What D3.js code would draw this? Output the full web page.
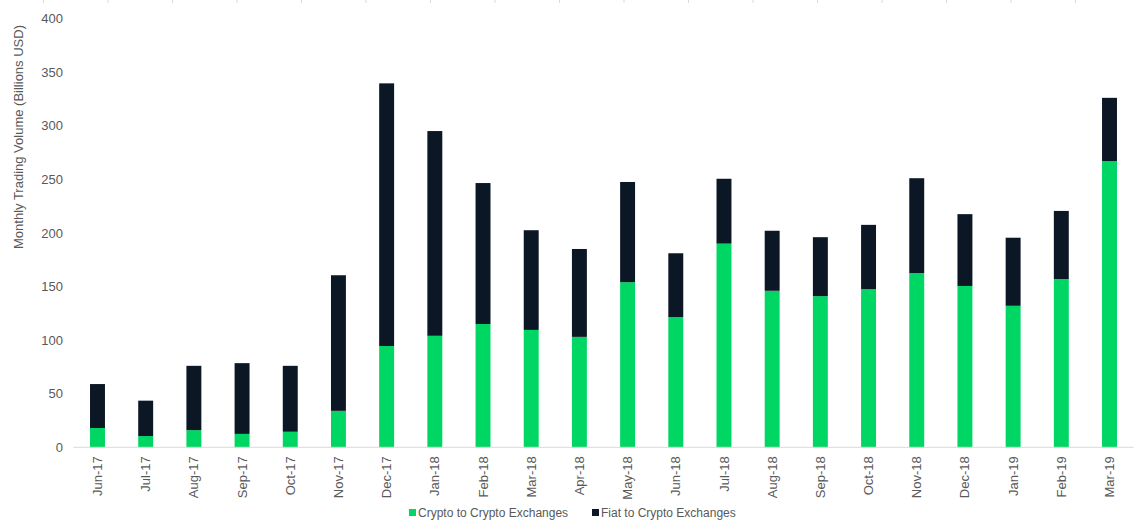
<!DOCTYPE html>
<html>
<head>
<meta charset="utf-8">
<script src="https://cdn.jsdelivr.net/npm/d3@7"></script>
<style>
    body { margin: 0; background: #fff; }
    text { font-family: "Liberation Sans", Arial, sans-serif; fill: #595959; }
</style>
</head>
<body>
<div id="chart"></div>
<script>
// データ
var months = ["Jun-17", "Jul-17", "Aug-17", "Sep-17", "Oct-17", "Nov-17", "Dec-17",
    "Jan-18", "Feb-18", "Mar-18", "Apr-18", "May-18", "Jun-18", "Jul-18", "Aug-18",
    "Sep-18", "Oct-18", "Nov-18", "Dec-18", "Jan-19", "Feb-19", "Mar-19"];
var cryptoToCrypto = [18, 10.5, 16, 12.5, 14.5, 34, 94.5,
    104, 115, 109.5, 103, 154, 121.5, 190, 146,
    141, 147.5, 162.5, 150.5, 132, 157, 267];
var fiatToCrypto = [41, 33, 60, 66, 61.5, 126.5, 245,
    191, 131.5, 93, 82, 93.5, 59.5, 60.5, 56,
    55, 60, 88.5, 67, 63.5, 63.5, 59];
var yTicks = [0, 50, 100, 150, 200, 250, 300, 350, 400];
var seriesNames = ["Crypto to Crypto Exchanges", "Fiat to Crypto Exchanges"];
var seriesColors = ["#00d664", "#0c1726"];

var width = 1139;
var height = 530;

var rows = months.map(function (m, i) {
    return { month: m, c2c: cryptoToCrypto[i], f2c: fiatToCrypto[i] };
});
var stack = d3.stack().keys(["c2c", "f2c"])(rows);

var svg = d3.select("#chart")
    .append("svg")
    .attr("width", width)
    .attr("height", height);

// 上端の小さな目盛り
svg.append("g")
    .selectAll("line")
    .data(d3.range(17))
    .enter()
    .append("line")
    .attr("x1", function (d) { return 43.5 + d * 64.5; })
    .attr("x2", function (d) { return 43.5 + d * 64.5; })
    .attr("y1", 0)
    .attr("y2", 3)
    .attr("stroke", "#d9d9d9");

// スケール
var xScale = d3.scaleBand()
    .domain(months)
    .range([73.4, 1133.6])
    .paddingInner(0.69)
    .paddingOuter(0.345);

var yScale = d3.scaleLinear()
    .domain([0, 400])
    .range([447.3, 18.5]);

// 棒グラフ
svg.append("g")
    .selectAll("g")
    .data(stack)
    .enter()
    .append("g")
    .attr("fill", function (d, i) { return seriesColors[i]; })
    .selectAll("rect")
    .data(function (d) { return d; })
    .enter()
    .append("rect")
    .attr("x", function (d) { return xScale(d.data.month); })
    .attr("y", function (d) { return yScale(d[1]); })
    .attr("width", xScale.bandwidth())
    .attr("height", function (d) { return yScale(d[0]) - yScale(d[1]); });

// Y 軸
var yAxis = d3.axisLeft(yScale)
    .tickValues(yTicks)
    .tickSize(0)
    .tickPadding(0);
var gy = svg.append("g")
    .attr("transform", "translate(63,0)")
    .call(yAxis);
gy.select(".domain").remove();
gy.selectAll("text")
    .style("font-size", "13px")
    .style("fill", "#595959");

// X 軸
var xAxis = d3.axisBottom(xScale)
    .tickSize(0)
    .tickPadding(0);
var gx = svg.append("g")
    .attr("transform", "translate(0,447.3)")
    .call(xAxis);
gx.select(".domain")
    .attr("stroke", "#d9d9d9")
    .attr("d", "M73.4,0H1133.6");
gx.selectAll("text")
    .style("font-size", "13px")
    .style("fill", "#595959")
    .attr("text-anchor", "end")
    .attr("dy", "0.35em")
    .attr("transform", "translate(0,9) rotate(-90)")
    .attr("y", 0)
    .attr("x", 0);

// Y 軸タイトル
svg.append("text")
    .text("Monthly Trading Volume (Billions USD)")
    .style("font-size", "13px")
    .attr("text-anchor", "middle")
    .attr("transform", "translate(22.5,137) rotate(-90)");

// 凡例
var legend = svg.append("g")
    .selectAll("g")
    .data(seriesNames)
    .enter()
    .append("g")
    .attr("transform", function (d, i) { return "translate(" + [409, 592][i] + ",513)"; });
legend.append("rect")
    .attr("x", 0)
    .attr("y", -4)
    .attr("width", 7)
    .attr("height", 7)
    .attr("fill", function (d, i) { return seriesColors[i]; });
legend.append("text")
    .text(function (d) { return d; })
    .style("font-size", "12px")
    .attr("x", 9)
    .attr("dy", "0.35em");
</script>
</body>
</html>
